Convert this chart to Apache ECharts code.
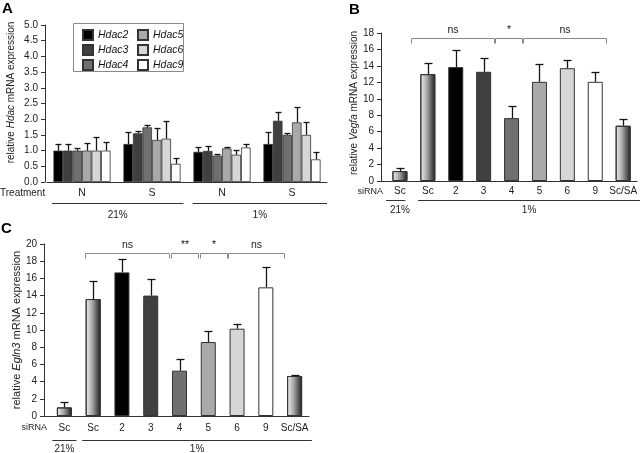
<!DOCTYPE html>
<html>
<head>
<meta charset="utf-8">
<script src="https://cdn.jsdelivr.net/npm/echarts@6/dist/echarts.min.js"></script>
<style>
html, body { margin: 0; padding: 0; background: #fff; }
#main { width: 640px; height: 453px; }
</style>
</head>
<body>
<div id="main"></div>
<script>
// ---- data ----
// panel A: relative Hdac mRNA expression, groups 21% N / S, 1% N / S
var hdacNames = ['Hdac2', 'Hdac3', 'Hdac4', 'Hdac5', 'Hdac6', 'Hdac9'];
var treatmentLabels = ['N', 'S', 'N', 'S'];
var oxygenLabels = ['21%', '1%'];
var hdacMean = [
  [1.00, 1.21, 0.96, 1.21],
  [1.00, 1.55, 0.99, 1.95],
  [1.00, 1.74, 0.84, 1.50],
  [1.00, 1.34, 1.07, 1.90],
  [1.00, 1.38, 0.87, 1.50],
  [1.00, 0.58, 1.10, 0.72]
];
var hdacErrTop = [
  [1.21, 1.58, 1.13, 1.59],
  [1.20, 1.62, 1.15, 2.24],
  [1.09, 1.82, 0.89, 1.57],
  [1.25, 1.73, 1.13, 2.38],
  [1.44, 1.94, 1.02, 1.91],
  [1.28, 0.77, 1.22, 0.97]
];

// panels B and C: siRNA knockdowns
var sirnaLabels = ['Sc', 'Sc', '2', '3', '4', '5', '6', '9', 'Sc/SA'];
var vegfaMean   = [1.21, 13.0, 13.85, 13.28, 7.65, 12.06, 13.72, 12.06, 6.72];
var vegfaErrTop = [1.54, 14.37, 15.9, 14.98, 9.1, 14.2, 14.74, 13.2, 7.57];
var egln3Mean   = [1.0, 13.6, 16.7, 14.0, 5.27, 8.6, 10.15, 14.96, 4.65];
var egln3ErrTop = [1.6, 15.7, 18.3, 15.9, 6.6, 9.84, 10.7, 17.3, 4.73];

// significance brackets: label, first category, last category
var vegfaSig = [['ns', 1, 3], ['*', 4, 4], ['ns', 5, 7]];
var egln3Sig = [['ns', 1, 3], ['**', 4, 4], ['*', 5, 5], ['ns', 6, 7]];

// ---- style ----
var FONT = '"Liberation Sans", Arial, sans-serif';
var greys = ['#000000', '#404040', '#707070', '#a9a9a9', '#d6d6d6', '#ffffff'];
function grad() {
  return new echarts.graphic.LinearGradient(0, 0, 1, 0, [
    { offset: 0, color: '#f2f2f2' },
    { offset: 0.45, color: '#a4a4a4' },
    { offset: 1, color: '#1c1c1c' }
  ]);
}
var sirnaFill = [grad(), grad()].concat(greys).concat([grad()]);

var chart = echarts.init(document.getElementById('main'));

// error bar drawn from the bar top up to the error top
function errRender(capHalf, nSlots, slotFrac) {
  return function (params, api) {
    var c = api.value(0), m = api.value(1), t = api.value(2), k = api.value(3);
    var base = api.coord([c, m]);
    var top = api.coord([c, t]);
    var cw = api.size([1, 0])[0];
    var x = base[0] + (k - (nSlots - 1) / 2) * cw * slotFrac;
    x = Math.round(x) + 0.5;
    var ty = Math.round(top[1]) + 0.5;
    var st = { stroke: '#151515', lineWidth: 1.3 };
    return {
      type: 'group',
      children: [
        { type: 'line', shape: { x1: x, y1: base[1], x2: x, y2: ty }, style: st },
        { type: 'line', shape: { x1: x - capHalf, y1: ty, x2: x + capHalf, y2: ty }, style: st }
      ]
    };
  };
}

function yAxisOf(grid, max, step, offset, nameHtml, gap, fs, pad, fmt) {
  return {
    gridIndex: grid, type: 'value', min: 0, max: max, interval: step, offset: offset,
    axisLine: { show: true, lineStyle: { color: '#333', width: 1 } },
    axisTick: { show: true, length: 4, lineStyle: { color: '#333' } },
    splitLine: { show: false },
    axisLabel: { fontSize: 10, color: '#222', margin: 7, fontFamily: FONT, formatter: fmt },
    name: nameHtml, nameLocation: 'middle', nameGap: gap, nameRotate: 90,
    nameTextStyle: {
      fontSize: fs, color: '#222', fontFamily: FONT, padding: pad,
      rich: {
        n: { fontSize: fs, color: '#222', fontFamily: FONT },
        i: { fontSize: fs, color: '#222', fontFamily: FONT, fontStyle: 'italic' }
      }
    }
  };
}
function xAxisOf(grid, data, margin, fs) {
  return {
    gridIndex: grid, type: 'category', data: data,
    axisTick: { show: false },
    axisLine: { lineStyle: { color: '#333', width: 1 } },
    axisLabel: { fontSize: fs, color: '#222', margin: margin, interval: 0, fontFamily: FONT }
  };
}

var series = [];
var hdacErrData = [];
hdacNames.forEach(function (name, k) {
  series.push({
    name: name, type: 'bar', xAxisIndex: 0, yAxisIndex: 0,
    data: hdacMean[k], barWidth: '13.6%', barGap: '0%',
    itemStyle: { color: greys[k], borderColor: '#333', borderWidth: 0.8 },
    silent: true
  });
  hdacMean[k].forEach(function (v, c) {
    hdacErrData.push([c, v, hdacErrTop[k][c], k]);
  });
});
series.push({
  type: 'custom', xAxisIndex: 0, yAxisIndex: 0, z: 5, silent: true,
  renderItem: errRender(3, 6, 0.136), encode: { x: 0, y: [1, 2] }, data: hdacErrData
});

function sirnaBars(axis, mean, top) {
  series.push({
    type: 'bar', xAxisIndex: axis, yAxisIndex: axis, barWidth: 15, silent: true,
    data: mean.map(function (v, i) {
      return { value: v, itemStyle: { color: sirnaFill[i], borderColor: '#333', borderWidth: 1 } };
    })
  });
  series.push({
    type: 'custom', xAxisIndex: axis, yAxisIndex: axis, z: 5, silent: true,
    renderItem: errRender(4, 1, 0), encode: { x: 0, y: [1, 2] },
    data: mean.map(function (v, i) { return [i, v, top[i], 0]; })
  });
}
sirnaBars(1, vegfaMean, vegfaErrTop);
sirnaBars(2, egln3Mean, egln3ErrTop);

chart.setOption({
  animation: false,
  textStyle: { fontFamily: FONT },
  grid: [
    { left: 47, top: 25, width: 280, height: 157 },
    { left: 386, top: 33, width: 252, height: 148 },
    { left: 50, top: 244, width: 259, height: 172 }
  ],
  legend: {
    data: hdacNames, orient: 'vertical', left: 74, top: 24, height: 50,
    padding: [5, 8], itemGap: 3, itemWidth: 10, itemHeight: 10, icon: 'rect',
    textStyle: { fontSize: 10.5, fontStyle: 'italic', color: '#111', width: 36, lineHeight: 11,
                 fontFamily: '"Liberation Sans Narrow", "Liberation Sans", Arial, sans-serif' },
    selectedMode: false
  },
  xAxis: [
    xAxisOf(0, treatmentLabels, 6, 10.5),
    xAxisOf(1, sirnaLabels, 5.5, 10),
    xAxisOf(2, sirnaLabels, 7, 10)
  ],
  yAxis: [
    yAxisOf(0, 5, 0.5, 2, '{n|relative }{i|Hdac}{n| mRNA expression}', 29, 10, [0, 0, 0, 22],
      function (v) { return v.toFixed(1); }),
    yAxisOf(1, 18, 2, 5, '{n|relative }{i|Vegfa}{n| mRNA expression}', 21, 10, [0, 0, 0, 8], null),
    yAxisOf(2, 20, 2, 6, '{n|relative }{i|Egln3}{n| mRNA expression}', 20, 11, 0, null)
  ],
  series: series
});

// ---- annotations placed from the axes ----
function px(axis, u) {
  var a = chart.convertToPixel({ xAxisIndex: axis }, 0);
  var b = chart.convertToPixel({ xAxisIndex: axis }, 1);
  return a + u * (b - a);
}
function py(axis, v) { return chart.convertToPixel({ yAxisIndex: axis }, v); }
function crisp(v) { return Math.round(v) + 0.5; }

var g = [];
function hline(x1, x2, y, color) {
  g.push({ type: 'line', silent: true, shape: { x1: x1, y1: crisp(y), x2: x2, y2: crisp(y) },
           style: { stroke: color || '#333', lineWidth: 1 } });
}
function label(x, y, str, opt) {
  opt = opt || {};
  g.push({ type: 'text', silent: true, x: x, y: y, style: {
    text: str, fill: opt.color || '#222', fontSize: opt.size || 10, fontFamily: FONT,
    fontWeight: opt.weight || 'normal', align: opt.align || 'center', verticalAlign: opt.va || 'middle'
  } });
}
function brackets(axis, sig, level, lead, tail) {
  var y = crisp(py(axis, level));
  sig.forEach(function (s) {
    var x1 = crisp(px(axis, s[1] - lead)), x2 = crisp(px(axis, s[2] + tail));
    g.push({ type: 'polyline', silent: true,
             shape: { points: [[x1, y + 5], [x1, y], [x2, y], [x2, y + 5]] },
             style: { stroke: '#8a8a8a', lineWidth: 1, fill: null } });
    label((x1 + x2) / 2, y - 3, s[0], { va: 'bottom', size: 10.5 });
  });
}

// panel letters
label(2, 1, 'A', { align: 'left', va: 'top', size: 15, weight: 'bold', color: '#000' });
label(349, 2, 'B', { align: 'left', va: 'top', size: 15, weight: 'bold', color: '#000' });
label(1, 221, 'C', { align: 'left', va: 'top', size: 15, weight: 'bold', color: '#000' });

// panel A legend frame and grouping
g.push({ type: 'rect', silent: true, shape: { x: 73.5, y: 23.5, width: 110, height: 48 },
         style: { stroke: '#8a8a8a', lineWidth: 1, fill: null }, z: -1 });
label(0, 193, 'Treatment', { align: 'left', size: 10 });
hline(px(0, -0.43), px(0, 1.45), 203);
hline(px(0, 1.58), px(0, 3.5), 203);
label((px(0, -0.43) + px(0, 1.45)) / 2, 215, oxygenLabels[0]);
label((px(0, 1.58) + px(0, 3.5)) / 2, 215, oxygenLabels[1]);

// panel B
hline(px(1, -0.5) - 5, px(1, -0.5), py(1, 0));
label(383, 191.5, 'siRNA', { align: 'right', size: 9 });
hline(px(1, -0.5), px(1, 0.2), 200);
hline(px(1, 0.65), 640, 200);
label(px(1, 0), 210.5, oxygenLabels[0]);
label((px(1, 0.65) + 640) / 2, 210.5, oxygenLabels[1]);
brackets(1, vegfaSig, 17.4, 0.6, 0.37);

// panel C
hline(px(2, -0.5) - 6, px(2, -0.5), py(2, 0));
label(47, 428, 'siRNA', { align: 'right', size: 9 });
hline(px(2, -0.42), px(2, 0.42), 440);
hline(px(2, 0.62), px(2, 8.6), 440);
label(px(2, 0), 449, oxygenLabels[0]);
label((px(2, 0.62) + px(2, 8.6)) / 2, 449, oxygenLabels[1]);
brackets(2, egln3Sig, 18.95, 0.3, 0.64);

chart.setOption({ graphic: g });
</script>
</body>
</html>
